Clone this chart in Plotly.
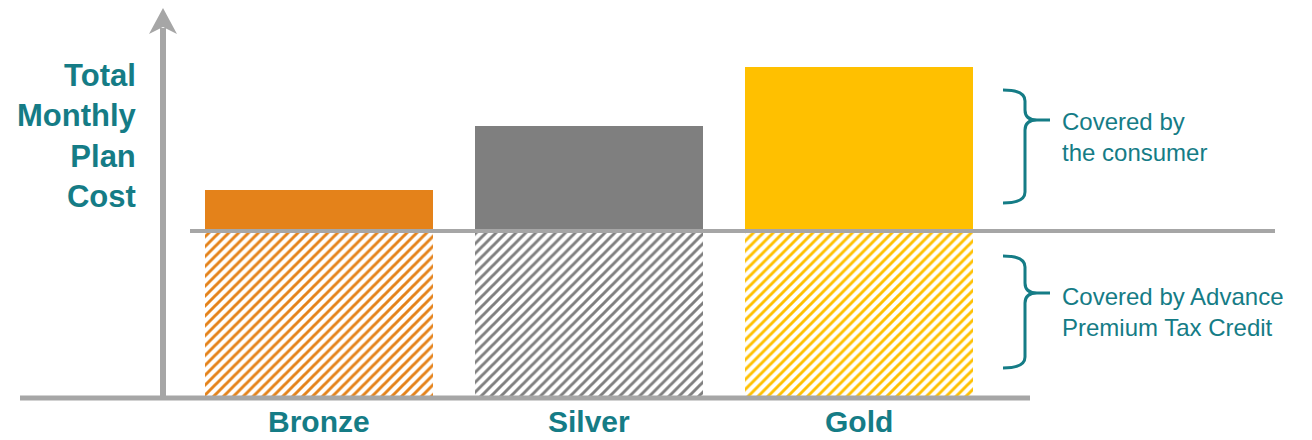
import plotly.graph_objects as go

# The page body has an 8px default margin, so the figure is drawn 8px in
# from the window's top-left corner.
OFF = 8
W, H = 1312 - OFF, 440 - OFF

categories = ["Bronze", "Silver", "Gold"]
tax_credit = [167, 167, 167]          # portion covered by Advance Premium Tax Credit
consumer_share = [41, 105, 164]       # portion covered by the consumer
solid_colors = ["#E4821A", "#7F7F7F", "#FFC000"]
y_title = "Total<br>Monthly<br>Plan<br>Cost"
brace_labels = ["Covered by<br>the consumer", "Covered by Advance<br>Premium Tax Credit"]

teal = "#157C86"
axis_gray = "#A6A6A6"
font_family = "Liberation Sans, Arial, sans-serif"


def px(x):
    return (x - OFF) / W


def py(y):
    return 1 - (y - OFF) / H


def path(cmds):
    out = []
    for c in cmds:
        if isinstance(c, str):
            out.append(c)
        else:
            out.append(f"{px(c[0]):.5f},{py(c[1]):.5f}")
    return " ".join(out)


fig = go.Figure()
fig.add_bar(
    x=categories, y=tax_credit,
    marker=dict(color="white", line=dict(width=0),
                pattern=dict(shape="/", fgcolor=solid_colors, bgcolor="white",
                             size=7, solidity=0.42, fillmode="replace")),
    hoverinfo="skip", showlegend=False,
)
fig.add_bar(
    x=categories, y=consumer_share,
    marker=dict(color=solid_colors, line=dict(width=0)),
    hoverinfo="skip", showlegend=False,
)

shapes = []
# y axis shaft + arrowhead
shapes.append(dict(type="line", xref="paper", yref="paper",
                   x0=px(163), x1=px(163), y0=py(398), y1=py(28),
                   line=dict(color=axis_gray, width=6), layer="above"))
shapes.append(dict(type="path", xref="paper", yref="paper",
                   path=path(["M", (163, 8), "L", (177, 34), "L", (163, 27), "L", (149, 34), "Z"]),
                   fillcolor=axis_gray, line=dict(width=0), layer="above"))
# baseline
shapes.append(dict(type="line", xref="paper", yref="y",
                   x0=px(20), x1=px(1030), y0=0, y1=0,
                   line=dict(color=axis_gray, width=5), layer="above"))
# tax credit level line
shapes.append(dict(type="line", xref="paper", yref="y",
                   x0=px(190), x1=px(1275), y0=tax_credit[0], y1=tax_credit[0],
                   line=dict(color=axis_gray, width=4), layer="above"))


def brace(top, bottom, cusp):
    return path([
        "M", (1003, top), "Q", (1025, top), (1025, top + 11),
        "L", (1025, cusp - 10), "Q", (1025, cusp), (1037, cusp),
        "L", (1050, cusp),
        "M", (1037, cusp), "Q", (1025, cusp), (1025, cusp + 10),
        "L", (1025, bottom - 11), "Q", (1025, bottom), (1003, bottom),
    ])


shapes.append(dict(type="path", xref="paper", yref="paper", path=brace(90, 203, 120),
                   line=dict(color=teal, width=3)))
shapes.append(dict(type="path", xref="paper", yref="paper", path=brace(256, 368, 293),
                   line=dict(color=teal, width=3)))

annotations = []
for c in categories:
    annotations.append(dict(x=c, xref="x", y=py(421), yref="paper", text=f"<b>{c}</b>",
                            showarrow=False, xanchor="center", yanchor="middle",
                            font=dict(family=font_family, size=30, color=teal)))
annotations.append(dict(x=px(139), xref="paper", y=py(136), yref="paper",
                        text=f"<b>{y_title}</b>", showarrow=False, xanchor="right",
                        yanchor="middle", align="right",
                        font=dict(family=font_family, size=31, color=teal)))
annotations.append(dict(x=px(1060), xref="paper", y=py(137), yref="paper",
                        text=brace_labels[0], showarrow=False, xanchor="left",
                        yanchor="middle", align="left",
                        font=dict(family=font_family, size=24, color=teal)))
annotations.append(dict(x=px(1060), xref="paper", y=py(312), yref="paper",
                        text=brace_labels[1], showarrow=False, xanchor="left",
                        yanchor="middle", align="left",
                        font=dict(family=font_family, size=24, color=teal)))

fig.update_layout(
    width=W, height=H,
    margin=dict(l=0, r=0, t=0, b=0),
    paper_bgcolor="white", plot_bgcolor="white",
    barmode="stack", bargap=0.1556,
    xaxis=dict(type="category", categoryorder="array", categoryarray=categories,
               range=[-(319 - OFF) / 270, (1312 - 319) / 270], visible=False, fixedrange=True),
    yaxis=dict(range=[-42, 398 - OFF], visible=False, fixedrange=True),
    shapes=shapes, annotations=annotations,
    showlegend=False,
)

fig.write_html("out.html")
